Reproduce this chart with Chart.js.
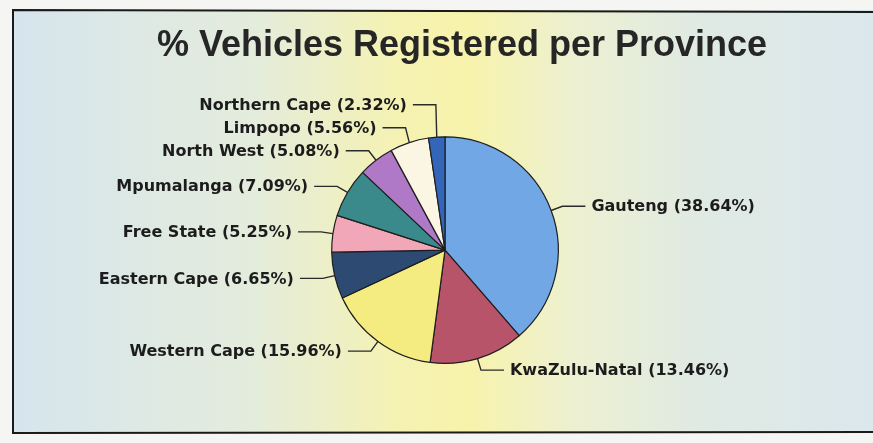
<!DOCTYPE html>
<html lang="en">
<head>
    <meta charset="UTF-8">
    <title>% Vehicles Registered per Province</title>
    <script src="https://cdn.jsdelivr.net/npm/chart.js"></script>
    <style>
        body {
            margin: 0;
            padding: 0;
            background: #f5f5f3;
        }
        .chart-box {
            width: 873px;
            height: 443px;
            position: relative;
        }
    </style>
</head>
<body>
    <div class="chart-box">
        <canvas id="provinceChart"></canvas>
    </div>

    <script>
    // datos (orden horario desde las 12)
    const provinces = ["Gauteng", "KwaZulu-Natal", "Western Cape", "Eastern Cape", "Free State",
                       "Mpumalanga", "North West", "Limpopo", "Northern Cape"];
    const shares = [38.64, 13.46, 15.96, 6.65, 5.25, 7.09, 5.08, 5.56, 2.32];

    const sliceColors = ['#70a7e4', '#b8546a', '#f4ec80', '#2d4a72', '#f2a7b8',
                         '#3a8a8b', '#b079c8', '#fbf6e3', '#3366b8'];

    // fondo con degradado y marco como en el original escaneado
    const frameBackground = {
        id: 'frameBackground',
        beforeDraw(chart) {
            const ctx = chart.ctx;
            const w = chart.width, h = chart.height;
            ctx.save();
            ctx.fillStyle = '#f5f5f3';
            ctx.fillRect(0, 0, w, h);
            const grad = ctx.createLinearGradient(13, 0, w, 0);
            grad.addColorStop(0, '#d6e5ee');
            grad.addColorStop(0.28, '#e4ecdc');
            grad.addColorStop(0.45, '#f5f2b2');
            grad.addColorStop(0.53, '#f7f3ac');
            grad.addColorStop(0.65, '#edf0d0');
            grad.addColorStop(0.8, '#e0eae4');
            grad.addColorStop(1, '#dbe7ec');
            ctx.fillStyle = grad;
            ctx.fillRect(13, 10, w - 13, 423);
            ctx.strokeStyle = '#1a1a1a';
            ctx.lineWidth = 2;
            ctx.beginPath();
            ctx.moveTo(w, 12);
            ctx.lineTo(13, 10);
            ctx.lineTo(13, 433);
            ctx.lineTo(w, 432);
            ctx.stroke();
            ctx.restore();
        }
    };

    // etiquetas con lineas guia, estilo Excel
    const leaderLabels = {
        id: 'leaderLabels',
        afterDatasetsDraw(chart) {
            const ctx = chart.ctx;
            const meta = chart.getDatasetMeta(0);
            const values = chart.data.datasets[0].data;
            const items = meta.data.map((arc, i) => {
                const p = arc.getProps(['x', 'y', 'startAngle', 'endAngle', 'outerRadius'], true);
                const mid = (p.startAngle + p.endAngle) / 2;
                const cos = Math.cos(mid), sin = Math.sin(mid);
                return {
                    text: chart.data.labels[i] + ' (' + values[i].toFixed(2) + '%)',
                    ax: p.x + cos * p.outerRadius,
                    ay: p.y + sin * p.outerRadius,
                    ex: p.x + cos * (p.outerRadius + 12),
                    ey: p.y + sin * (p.outerRadius + 12),
                    right: cos >= 0
                };
            });

            const gap = 23;
            const left = items.filter(it => !it.right).sort((a, b) => b.ey - a.ey);
            for (let k = 1; k < left.length; k++) {
                if (left[k].ey > left[k - 1].ey - gap) left[k].ey = left[k - 1].ey - gap;
            }
            const right = items.filter(it => it.right).sort((a, b) => a.ey - b.ey);
            for (let k = 1; k < right.length; k++) {
                if (right[k].ey < right[k - 1].ey + gap) right[k].ey = right[k - 1].ey + gap;
            }

            ctx.save();
            ctx.font = 'bold 16px "DejaVu Sans", sans-serif';
            ctx.textBaseline = 'middle';
            items.forEach(it => {
                const dir = it.right ? 1 : -1;
                ctx.strokeStyle = '#2a2a2a';
                ctx.lineWidth = 1.4;
                ctx.beginPath();
                ctx.moveTo(it.ax, it.ay);
                ctx.lineTo(it.ex, it.ey);
                ctx.lineTo(it.ex + dir * 23, it.ey);
                ctx.stroke();
                ctx.fillStyle = '#1c1c1c';
                ctx.textAlign = it.right ? 'left' : 'right';
                ctx.fillText(it.text, it.ex + dir * 29, it.ey + 1);
            });
            ctx.restore();
        }
    };

    const ctx = document.getElementById('provinceChart').getContext('2d');
    new Chart(ctx, {
        type: 'pie',
        data: {
            labels: provinces,
            datasets: [{
                data: shares,
                backgroundColor: sliceColors,
                borderColor: '#1e1e1e',
                borderWidth: 1.2,
                hoverOffset: 0
            }]
        },
        options: {
            responsive: true,
            maintainAspectRatio: false,
            animation: false,
            layout: {
                padding: { left: 157, right: 106, top: 20, bottom: 79 }
            },
            plugins: {
                // leyenda vacia a la derecha: solo reserva espacio para que
                // el titulo quede mas a la derecha que el centro de la torta
                legend: {
                    display: true,
                    position: 'right',
                    labels: { padding: 24, filter: () => false }
                },
                tooltip: { enabled: false },
                title: {
                    display: true,
                    text: '% Vehicles Registered per Province',
                    align: 'start',
                    color: '#262626',
                    font: { family: '"Liberation Sans", Arial, sans-serif', size: 36, weight: 'bold' },
                    padding: { top: 4, bottom: 69 }
                }
            }
        },
        plugins: [frameBackground, leaderLabels]
    });
    </script>
</body>
</html>
